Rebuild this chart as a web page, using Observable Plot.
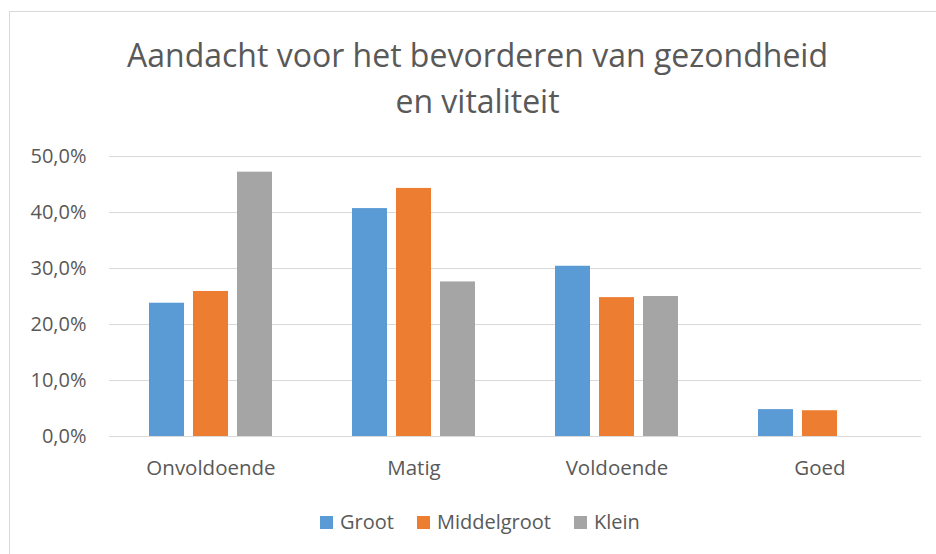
<!DOCTYPE html>
<html>
<head>
<meta charset="utf-8">
<script src="https://cdn.jsdelivr.net/npm/d3@7"></script>
<script src="https://cdn.jsdelivr.net/npm/@observablehq/plot@0.6"></script>
<style>
  html, body { margin: 0; padding: 0; background: #fff; }
  body { width: 936px; height: 554px; overflow: hidden; position: relative; font-family: 'Open Sans', sans-serif; }
  #border { position: absolute; left: 9px; top: 11px; width: 1000px; height: 1000px; border: 1px solid #d9d9d9; box-sizing: border-box; }
  #chart { position: absolute; left: 0; top: 0; }
  #title { position: absolute; left: 10px; width: 935px; top: 32px; text-align: center; font-size: 32px; line-height: 46px; font-weight: 400; color: #595959; z-index: 2; }
  #legend { position: absolute; left: 320px; top: 508px; display: flex; align-items: center; font-size: 20px; line-height: 28px; color: #595959; z-index: 2; }
  .item { display: flex; align-items: center; margin-right: 23px; }
  .sw { width: 13px; height: 13px; margin-right: 7px; }
</style>
</head>
<body>
<div id="border"></div>
<div id="chart"></div>
<div id="title">Aandacht voor het bevorderen van gezondheid<br>en vitaliteit</div>
<div id="legend"></div>
<script>
const categories = ["Onvoldoende", "Matig", "Voldoende", "Goed"];
const series = ["Groot", "Middelgroot", "Klein"];
const groot = [23.8, 40.7, 30.4, 4.8];
const middelgroot = [25.9, 44.3, 24.8, 4.6];
const klein = [47.2, 27.6, 25.0, 0];
const yTicks = [0, 10, 20, 30, 40, 50];
const colors = ["#5b9bd5", "#ed7d31", "#a5a5a5"];

const valuesBySeries = [groot, middelgroot, klein];
const rows = [];
series.forEach((s, si) => {
  categories.forEach((c, ci) => {
    rows.push({category: c, series: s, value: valuesBySeries[si][ci]});
  });
});

const fmt = d => d.toFixed(1).replace(".", ",") + "%";

const chart = Plot.plot({
  width: 936,
  height: 496,
  marginTop: 156,
  marginBottom: 60,
  marginLeft: 109,
  marginRight: 15,
  style: {background: "transparent", fontFamily: "'Open Sans', sans-serif", fontSize: "20px", color: "#595959"},
  fx: {domain: categories, padding: 0, axis: null},
  x: {domain: series, paddingInner: 0.2, paddingOuter: 0.9, axis: null},
  y: {domain: [0, 50], ticks: yTicks, tickFormat: fmt, tickSize: 0, tickPadding: 23, label: null},
  color: {domain: series, range: colors},
  marks: [
    Plot.ruleY(yTicks, {stroke: "#d9d9d9", strokeWidth: 1.2}),
    Plot.barY(rows, {fx: "category", x: "series", y: "value", fill: "series"}),
    Plot.axisFx({anchor: "bottom", tickSize: 0, tickPadding: 24, fontSize: 20.5, label: null})
  ]
});
document.getElementById("chart").appendChild(chart);

const legend = document.getElementById("legend");
series.forEach((s, i) => {
  const item = document.createElement("div");
  item.className = "item";
  const sw = document.createElement("div");
  sw.className = "sw";
  sw.style.background = colors[i];
  const t = document.createElement("span");
  t.textContent = s;
  item.appendChild(sw);
  item.appendChild(t);
  legend.appendChild(item);
});
</script>
</body>
</html>
